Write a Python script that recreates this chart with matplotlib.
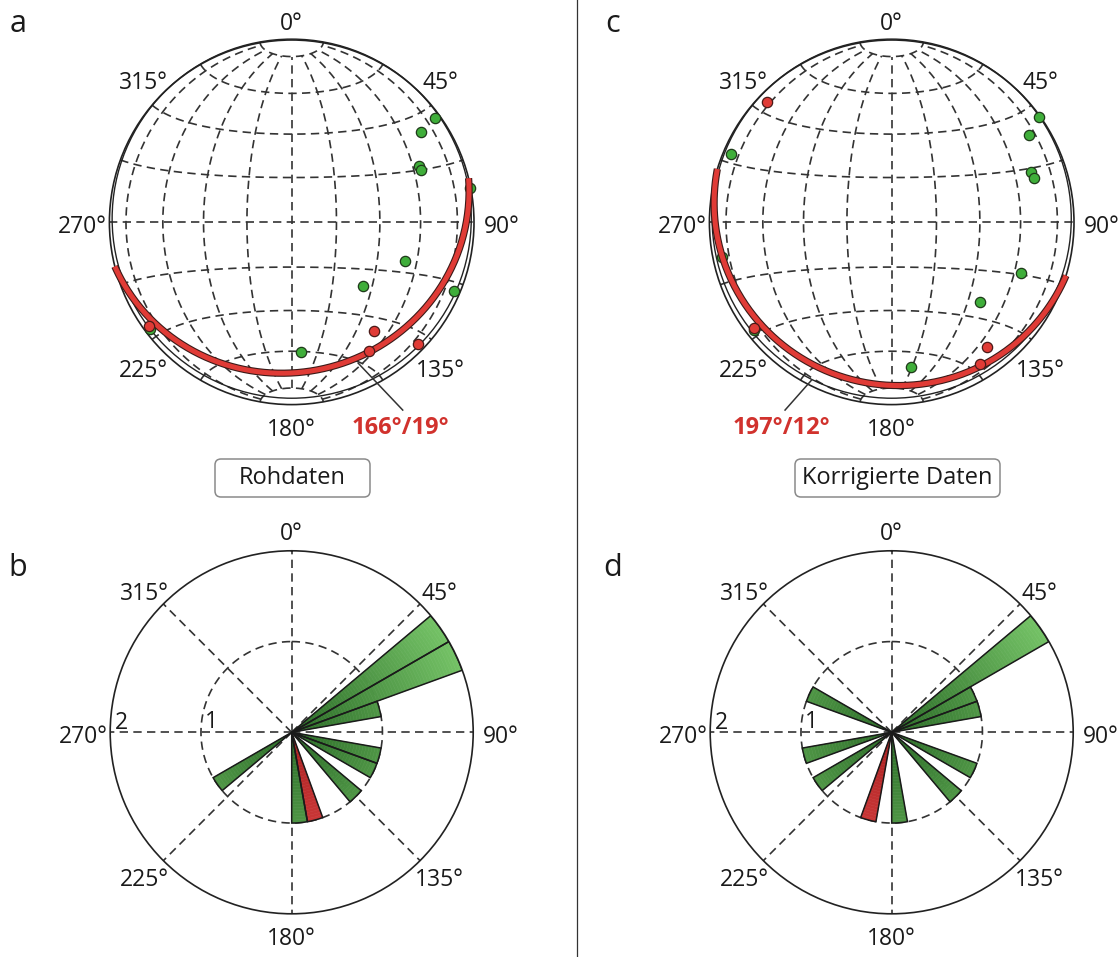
import numpy as np
import matplotlib
matplotlib.use('Agg')
import matplotlib.pyplot as plt
from matplotlib import patheffects as pe
from matplotlib.patches import Circle, FancyBboxPatch
from matplotlib.colors import to_rgb

plt.rcParams['font.family'] = ['Open Sans', 'DejaVu Sans']

# --- Stereonet data (trend / plunge in degrees, lower hemisphere) ---
raw_green_trend = [54, 55, 66, 68, 79, 109, 131.5, 113, 233, 176]
raw_green_plunge = [3, 14.5, 24.5, 24.5, 0.5, 34.5, 46.5, 3.5, 3, 29.5]
raw_red_trend = [143, 149, 134, 234]
raw_red_plunge = [26, 19, 4, 4]
raw_plane = (166, 19)

corr_green_trend = [54.5, 57.5, 70, 72.5, 111.5, 132, 172.5, 293, 232, 258.5]
corr_green_plunge = [1, 11.5, 20, 19.5, 24.5, 35, 21, 5, 5, 5.5]
corr_red_trend = [314, 142.5, 148, 232.5]
corr_red_plunge = [5.5, 15, 9, 5.5]
corr_plane = (197, 12)

# --- Rose data (10 degree bins: start angle, count) ---
raw_rose_start = [50, 60, 70, 100, 110, 130, 170, 230]
raw_rose_count = [2, 2, 1, 1, 1, 1, 1, 1]
raw_rose_red_start = [160]
raw_rose_red_count = [1]

corr_rose_start = [50, 60, 70, 110, 130, 170, 230, 250, 290]
corr_rose_count = [2, 1, 1, 1, 1, 1, 1, 1, 1]
corr_rose_red_start = [190]
corr_rose_red_count = [1]

dir_labels = ['0°', '45°', '90°', '135°', '180°', '225°', '270°', '315°']

GREEN = '#3fae3a'
RED = '#e03b36'
LABEL_RED = '#d1322d'
GRID = '#333333'
W, H = 1119, 957


def project(trend, plunge):
    t = np.radians(trend)
    p = np.radians(plunge)
    r = np.sqrt(2) * np.sin((np.pi / 2 - p) / 2)
    return r * np.sin(t), r * np.cos(t)


def great_circle(dipdir, dip, n=300):
    dd = np.radians(dipdir)
    d = np.radians(dip)
    s = dd - np.pi / 2
    a = np.linspace(0, np.pi, n)
    e = np.cos(a) * np.sin(s) + np.sin(a) * np.sin(dd) * np.cos(d)
    nn = np.cos(a) * np.cos(s) + np.sin(a) * np.cos(dd) * np.cos(d)
    dn = np.sin(a) * np.sin(d)
    return project(np.degrees(np.arctan2(e, nn)), np.degrees(np.arcsin(np.clip(dn, -1, 1))))


def schmidt(lam, phi):
    k = 1 / np.sqrt(1 + np.cos(phi) * np.cos(lam))
    return k * np.cos(phi) * np.sin(lam), k * np.sin(phi)


def label_pos(i):
    # direction labels sit a bit further out sideways than up/down
    a = np.radians(i * 45)
    return 1.15 * np.sin(a), 1.115 * np.cos(a) - 0.025


def stereonet(ax, gt, gp, rt, rp, plane, label, lab_xy, lead):
    ax.set_xlim(-1.25, 1.25)
    ax.set_ylim(-1.25, 1.25)
    ax.set_aspect('equal')
    ax.axis('off')
    ls = (0, (5, 3.2))
    lam = np.radians(np.linspace(-90, 90, 181))
    for lat in range(-80, 81, 20):
        x, y = schmidt(lam, np.radians(lat))
        ax.plot(x, y, color=GRID, lw=1.2, ls=ls, zorder=1)
    phi = np.radians(np.linspace(-80, 80, 161))
    for lon in range(-80, 81, 20):
        x, y = schmidt(np.radians(lon), phi)
        ax.plot(x, y, color=GRID, lw=1.2, ls=ls, zorder=1)
    ax.add_patch(Circle((0, 0), 1, fill=False, ec='#222222', lw=1.2, zorder=2))
    ax.add_patch(Circle((0, 0.02), 0.985, fill=False, ec='#222222', lw=1.0, zorder=2))

    x, y = project(np.array(gt), np.array(gp))
    ax.scatter(x, y, s=55, c=GREEN, edgecolors='#1f3a1a', linewidths=0.9, zorder=3)
    x, y = great_circle(*plane)
    ax.plot(x, y, color=RED, lw=3.6, zorder=4, solid_capstyle='butt',
            path_effects=[pe.Stroke(linewidth=5.2, foreground='#3a1a18'), pe.Normal()])
    x, y = project(np.array(rt), np.array(rp))
    ax.scatter(x, y, s=55, c=RED, edgecolors='#4a1a18', linewidths=0.9, zorder=5)

    ax.plot([lead[0][0], lead[1][0]], [lead[0][1], lead[1][1]], color='#333333', lw=1.1, zorder=3)
    ax.text(lab_xy[0], lab_xy[1], label, color=LABEL_RED, fontsize=17, fontweight='bold',
            ha='center', va='center')
    for i, lab in enumerate(dir_labels):
        x, y = label_pos(i)
        ax.text(x, y, lab, ha='center', va='center', fontsize=16.5, color='#1a1a1a', clip_on=False)


def mix(c1, c2, t):
    a = np.array(to_rgb(c1))
    b = np.array(to_rgb(c2))
    return tuple(a + (b - a) * t)


def petals(ax, starts, counts, c_in, c_out):
    width = np.radians(10)
    for st, c in zip(starts, counts):
        th = np.radians(st + 5)
        edges = np.linspace(0, c, int(c * 30) + 1)
        for r0, r1 in zip(edges[:-1], edges[1:]):
            col = mix(c_in, c_out, (r0 + r1) / 4)
            ax.bar(th, r1 - r0, width=width, bottom=r0, color=col, ec=col, lw=0.4, zorder=2)
        ax.bar(th, c, width=width, bottom=0, fill=False, ec='#1a1a1a', lw=1.1, zorder=3)


def rose(ax, starts, counts, rstarts, rcounts):
    ax.set_theta_zero_location('N')
    ax.set_theta_direction(-1)
    ax.set_ylim(0, 2)
    ax.grid(False)
    ax.set_xticks([])
    ax.set_yticks([])
    ax.spines['polar'].set_linewidth(1.2)
    ax.spines['polar'].set_color('#222222')
    ls = (0, (5, 3.2))
    for a in range(0, 360, 45):
        ax.plot([np.radians(a)] * 2, [0, 2], color=GRID, lw=1.2, ls=ls, zorder=1)
    t = np.linspace(0, 2 * np.pi, 361)
    ax.plot(t, np.ones_like(t), color=GRID, lw=1.2, ls=ls, zorder=1)
    petals(ax, starts, counts, '#2a6a26', '#74c266')
    petals(ax, rstarts, rcounts, '#a82020', '#ea4d4d')
    ax.text(np.radians(277.5), 0.89, '1', ha='center', va='center', fontsize=16.5, color='#1a1a1a')
    ax.text(np.radians(273.1), 1.876, '2', ha='center', va='center', fontsize=16.5, color='#1a1a1a')
    # direction labels in axes fraction (centre 0.5, radius 0.5)
    for i, lab in enumerate(dir_labels):
        x, y = label_pos(i)
        ax.text(0.5 + 0.5 * x, 0.5 + 0.5 * y, lab, ha='center', va='center', fontsize=16.5,
                color='#1a1a1a', transform=ax.transAxes, clip_on=False)


fig = plt.figure(figsize=(W / 100, H / 100), dpi=100)

# overlay in pixel coordinates for frame elements
ov = fig.add_axes([0, 0, 1, 1], zorder=-1)
ov.set_xlim(0, W)
ov.set_ylim(H, 0)
ov.axis('off')
ov.plot([577, 577], [0, H], color='#333333', lw=0.9)
for s, (px, py) in zip('abcd', [(18, 24), (18, 568), (613, 24), (613, 568)]):
    ov.text(px, py, s, fontsize=22, ha='center', va='center', color='#1a1a1a')
for txt, x0, x1 in [('Rohdaten', 215, 370), ('Korrigierte Daten', 795, 1000)]:
    ov.add_patch(FancyBboxPatch((x0, 459), x1 - x0, 38, boxstyle='round,pad=0,rounding_size=6',
                                fc='white', ec='#8a8a8a', lw=1.1))
    ov.text((x0 + x1) / 2, 478.5, txt, ha='center', va='center', fontsize=17, color='#1a1a1a')

Rn = 182.3
L = 1.25 * Rn
for cx, cy, args in [
    (291.7, 222.3, (raw_green_trend, raw_green_plunge, raw_red_trend, raw_red_plunge, raw_plane,
                    '166°/19°', (0.594, -1.128), ((0.365, -0.773), (0.609, -1.03)))),
    (891.7, 222.3, (corr_green_trend, corr_green_plunge, corr_red_trend, corr_red_plunge, corr_plane,
                    '197°/12°', (-0.603, -1.128), ((-0.439, -0.865), (-0.585, -1.03)))),
]:
    ax = fig.add_axes([(cx - L) / W, 1 - (cy + L) / H, 2 * L / W, 2 * L / H])
    stereonet(ax, *args)

Rr = 181.5
for cx, cy, args in [
    (291.7, 732.3, (raw_rose_start, raw_rose_count, raw_rose_red_start, raw_rose_red_count)),
    (891.7, 732.3, (corr_rose_start, corr_rose_count, corr_rose_red_start, corr_rose_red_count)),
]:
    ax = fig.add_axes([(cx - Rr) / W, 1 - (cy + Rr) / H, 2 * Rr / W, 2 * Rr / H], projection='polar')
    rose(ax, *args)

fig.savefig('out.png', dpi=100)
